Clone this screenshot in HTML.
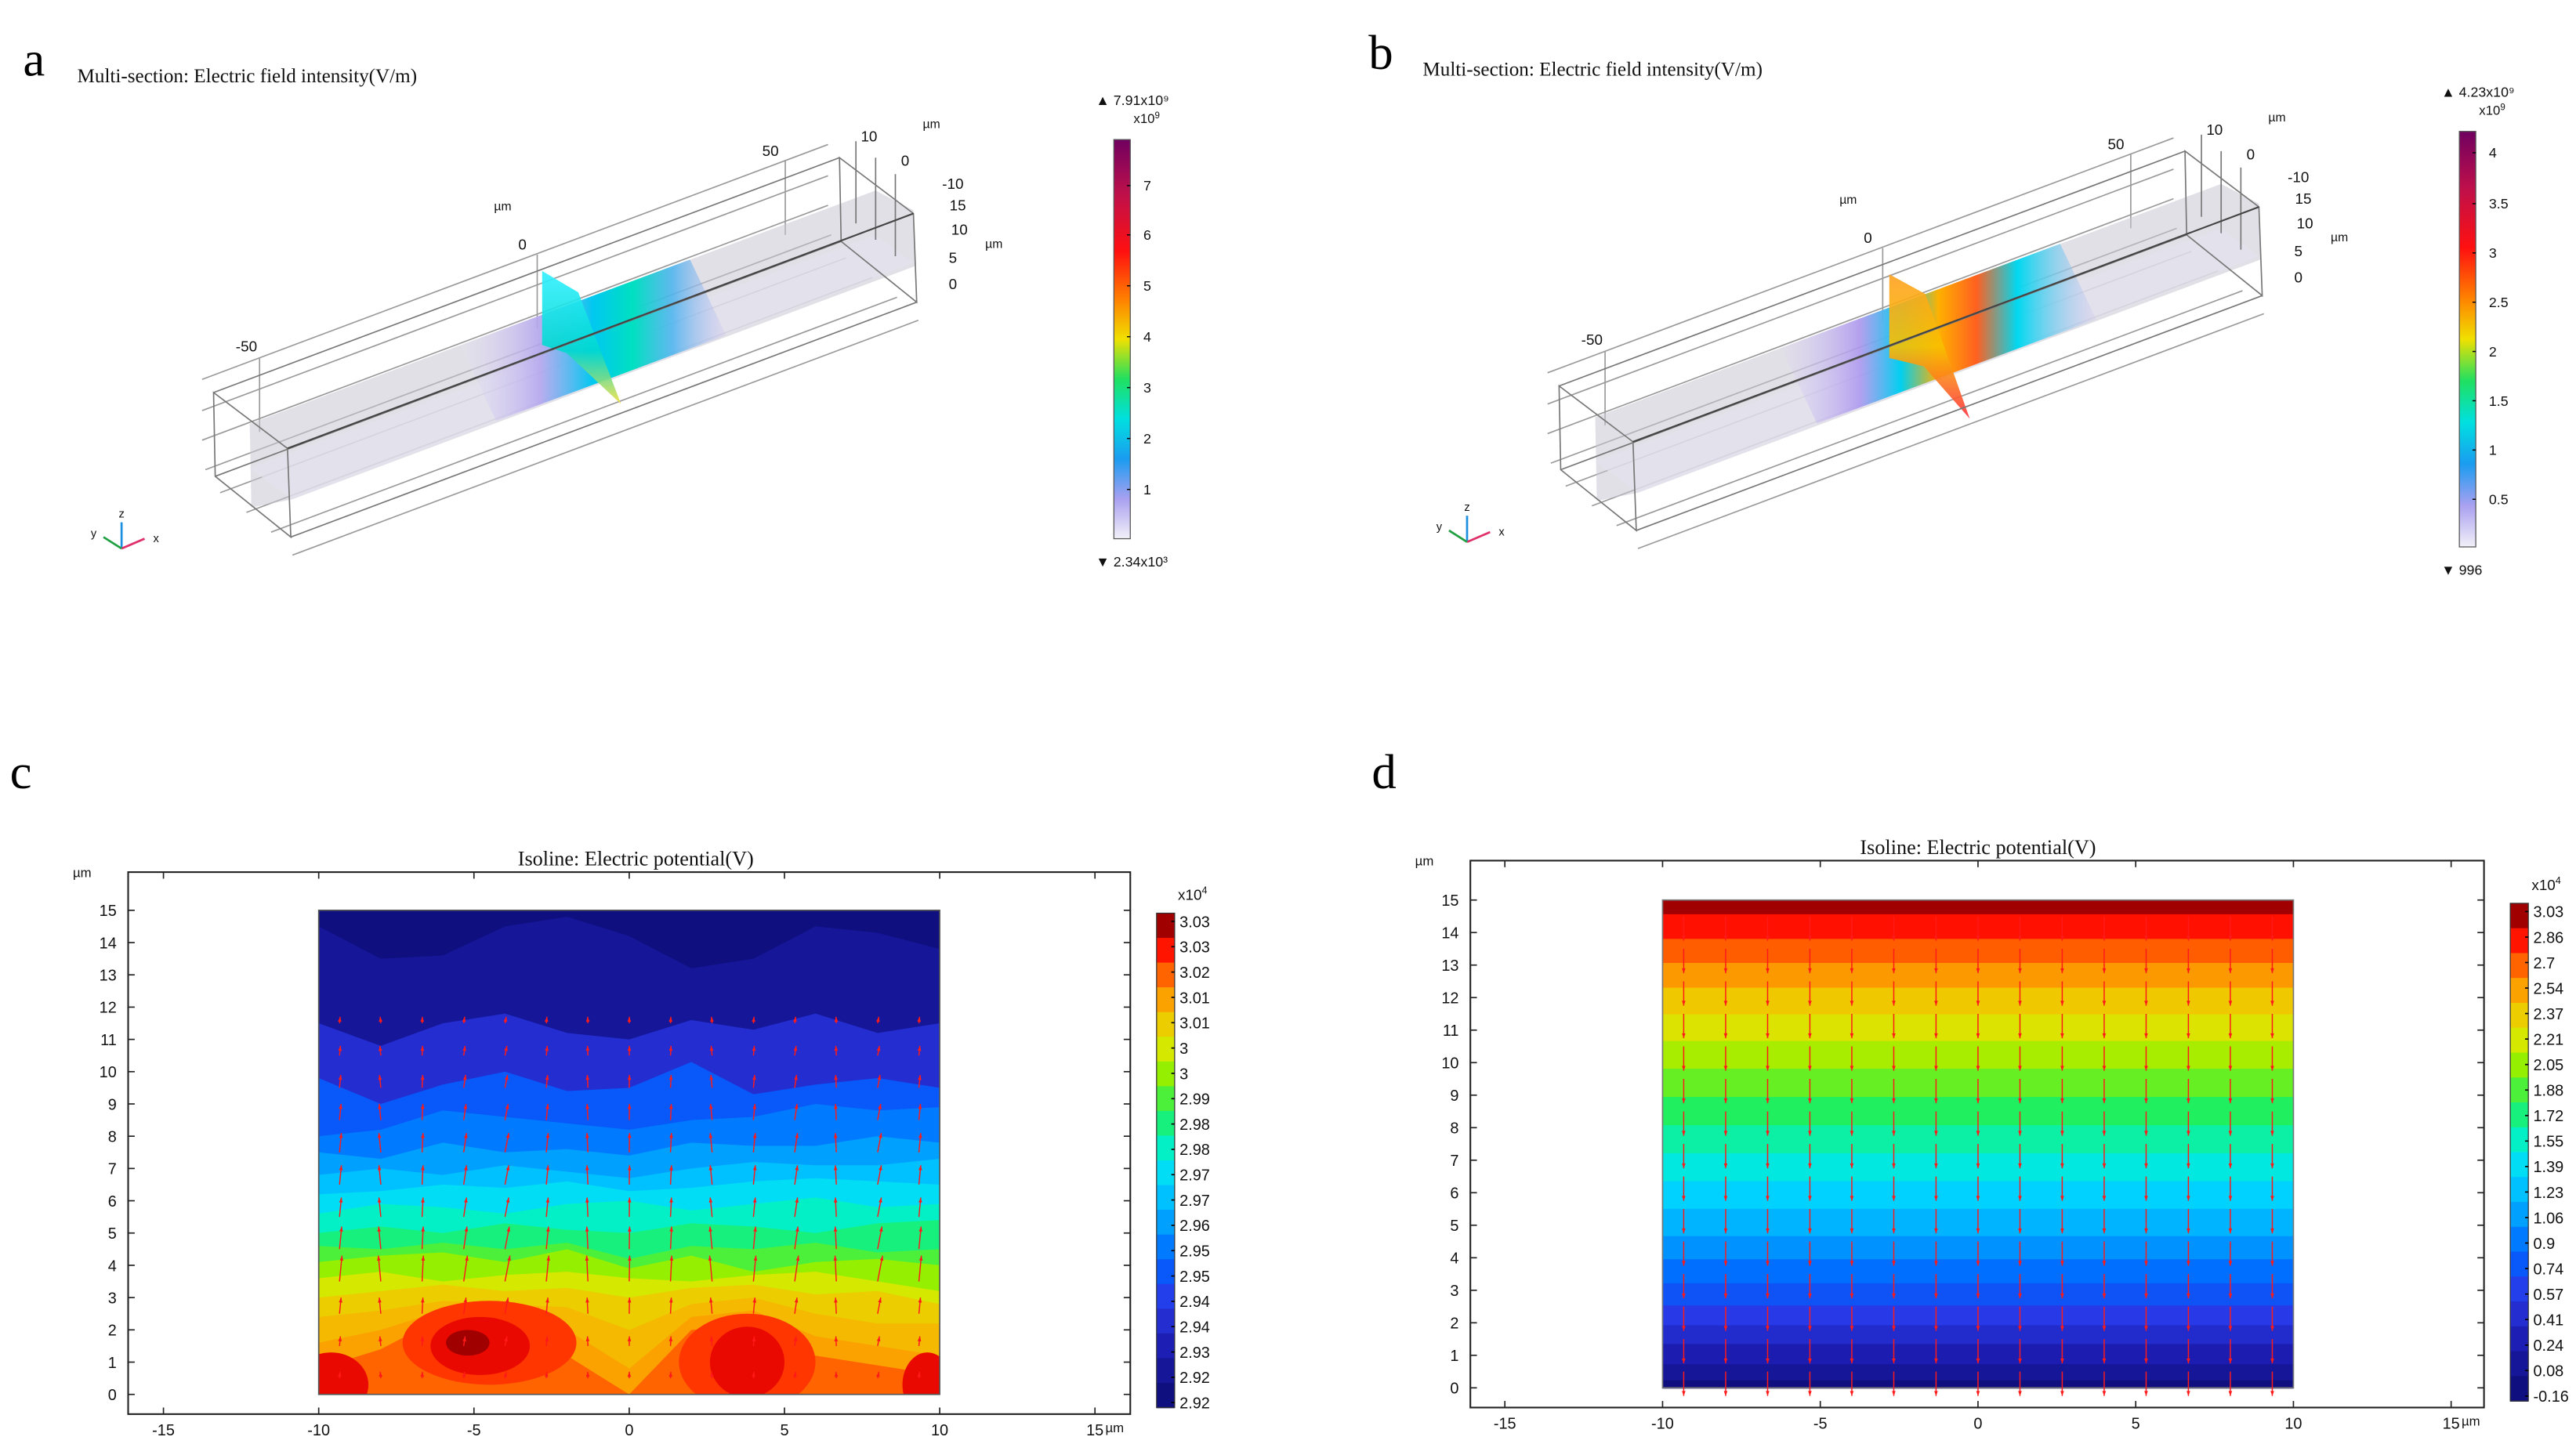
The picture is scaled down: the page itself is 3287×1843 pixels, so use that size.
<!DOCTYPE html>
<html><head><meta charset="utf-8"><style>
html,body{margin:0;padding:0;background:#fff}
svg{display:block}
text{font-family:"Liberation Sans",sans-serif}
.serif{font-family:"Liberation Serif",serif}
</style></head><body>
<svg id="fig" xmlns="http://www.w3.org/2000/svg" width="3287" height="1843" viewBox="0 0 1568 879.2" preserveAspectRatio="none">
<defs>
<linearGradient id="cbA" x1="0" y1="1" x2="0" y2="0">
<stop offset="0" stop-color="#f2f0f8"/><stop offset="0.1" stop-color="#a9a0f0"/><stop offset="0.2" stop-color="#1a9cf0"/><stop offset="0.3" stop-color="#00e0e0"/><stop offset="0.4" stop-color="#20e060"/><stop offset="0.5" stop-color="#f0e000"/><stop offset="0.6" stop-color="#ff8000"/><stop offset="0.72" stop-color="#ff1010"/><stop offset="0.86" stop-color="#c0104a"/><stop offset="1" stop-color="#700060"/>
</linearGradient>
<linearGradient id="secA" x1="0" y1="0" x2="1" y2="0">
<stop offset="0" stop-color="#e8e4f4" stop-opacity="0.2"/><stop offset="0.3" stop-color="#b0a0f0" stop-opacity="0.8"/><stop offset="0.5" stop-color="#00c8f0"/><stop offset="0.65" stop-color="#00e0c0"/><stop offset="0.8" stop-color="#40b0f0" stop-opacity="0.8"/><stop offset="1" stop-color="#c8b8f0" stop-opacity="0.2"/>
</linearGradient>
<linearGradient id="secB" x1="0" y1="0" x2="1" y2="0">
<stop offset="0" stop-color="#e0d8f4" stop-opacity="0.2"/><stop offset="0.25" stop-color="#a890f0" stop-opacity="0.8"/><stop offset="0.38" stop-color="#00d0f0"/><stop offset="0.5" stop-color="#ffb000"/><stop offset="0.62" stop-color="#ff6020"/><stop offset="0.75" stop-color="#00d8f0"/><stop offset="1" stop-color="#c8b8f0" stop-opacity="0.2"/>
</linearGradient>
<linearGradient id="planeB" x1="0" y1="0" x2="0" y2="1">
<stop offset="0" stop-color="#ffa020"/><stop offset="0.5" stop-color="#f8c000"/><stop offset="1" stop-color="#ff3040"/>
</linearGradient>
<linearGradient id="planeA" x1="0" y1="0" x2="0" y2="1">
<stop offset="0" stop-color="#30f0ff"/><stop offset="0.6" stop-color="#00d8d0"/><stop offset="1" stop-color="#f0e040"/>
</linearGradient>
</defs>
<g id="panelA"></g>
<g id="panelB"></g>
<g id="panelC"></g>
<g id="panelD"></g>
</svg>
<script>
// ---------- chart data ----------
const cXTicks = [-15,-10,-5,0,5,10,15];
const cYTicks = [0,1,2,3,4,5,6,7,8,9,10,11,12,13,14,15];
const cColorbarLabels = ["3.03","3.03","3.02","3.01","3.01","3","3","2.99","2.98","2.98","2.97","2.97","2.96","2.95","2.95","2.94","2.94","2.93","2.92","2.92"];
const dColorbarLabels = ["3.03","2.86","2.7","2.54","2.37","2.21","2.05","1.88","1.72","1.55","1.39","1.23","1.06","0.9","0.74","0.57","0.41","0.24","0.08","-0.16"];
const cBoundX = [-10,-8,-6,-4,-2,0,2,4,6,8,10];
const cB1 = [14.5,13.5,13.6,14.5,14.8,14.2,13.2,13.5,14.5,14.3,13.8];
const cB2 = [11.5,10.8,11.5,11.8,11.2,11.0,11.6,11.3,11.8,11.2,11.5];
const cB3 = [9.8,9.0,9.6,10.0,9.4,9.5,10.3,9.3,9.6,9.8,9.5];
const cB4 = [8.0,8.2,8.8,8.6,8.4,8.2,8.5,8.6,9.0,8.8,8.9];
const cB5 = [7.5,7.3,7.8,7.5,7.6,7.4,7.8,7.7,7.7,8.0,7.8];
const cB6 = [6.8,7.0,6.8,7.1,6.9,6.7,7.0,7.2,7.1,7.1,7.3];
const cB7 = [6.2,6.3,6.5,6.4,6.6,6.3,6.4,6.6,6.7,6.6,6.5];
const cB8 = [5.6,5.9,5.8,5.6,5.9,6.0,5.7,5.9,6.1,5.8,5.9];
const cB9 = [5.0,5.2,5.0,5.3,5.1,5.0,5.3,5.2,5.0,5.3,5.4];
const cB10 = [4.6,4.5,4.7,4.5,4.7,4.2,4.6,4.5,4.7,4.4,4.5];
const cB11 = [4.1,4.3,4.4,4.1,4.5,3.9,4.3,3.8,4.1,4.2,4.0];
const cB12 = [3.6,3.8,3.5,3.7,3.8,3.6,3.5,3.7,3.8,3.5,3.2];
const cB13 = [3.0,3.2,3.4,3.2,3.3,3.0,3.3,3.4,3.1,3.2,2.8];
const cB14 = [2.4,2.6,2.9,2.8,2.7,2.0,2.8,3.0,2.5,2.2,2.2];
const cB15 = [1.6,2.0,2.6,2.6,2.0,0.8,2.4,2.6,1.8,1.5,1.2];
const cB16 = [0.8,1.4,2.4,2.3,1.2,0.0,2.0,2.1,1.2,0.9,0.6];
const cBoundaries = [cB1,cB2,cB3,cB4,cB5,cB6,cB7,cB8,cB9,cB10,cB11,cB12,cB13,cB14,cB15,cB16];
const cBoundaryLevels = [1,3,5,6,7,8,9,10,11,12,13,14,15,15.5,16,17];
// hotspots
const cHotX = [-4.5,-4.8,-5.2,3.8,3.8,-9.6,9.6];
const cHotY = [1.6,1.5,1.6,1.0,1.0,0.3,0.3];
const cHotRX = [2.8,1.6,0.7,2.2,1.2,1.2,0.8];
const cHotRY = [1.3,0.9,0.4,1.5,1.1,1.0,1.0];
const cHotLevel = [17.6,18.3,19,17.6,18.3,18.3,18.3];
const arrowColsX = [-9.33,-8.0,-6.67,-5.33,-4.0,-2.67,-1.33,0,1.33,2.67,4.0,5.33,6.67,8.0,9.33];
const cArrowRowsY = [0.5,1.5,2.5,3.5,4.5,5.5,6.5,7.5,8.5,9.5,10.5,11.5];
const cArrowLen = [0.2,0.3,0.5,0.8,0.7,0.6,0.6,0.6,0.5,0.4,0.3,0.2];
const cArrowTilt = [0.1,-0.1,0.05,0.15,0.2,0.1,-0.05,0.02,0.05,-0.1,0.1,0.15,-0.05,0.2,0.1];
const dBandBounds = [0.26,0.75,1.37,1.95,2.56,3.24,3.98,4.69,5.53,6.38,7.24,8.10,8.97,9.84,10.69,11.51,12.33,13.09,13.83,14.59];
const dArrowRowsY = [14.5,13.5,12.5,11.5,10.5,9.5,8.5,7.5,6.5,5.5,4.5,3.5,2.5,1.5,0.5];
const dArrowLen = 0.75;

const NS="http://www.w3.org/2000/svg";
function mk(tag, parent, attrs){const e=document.createElementNS(NS,tag);for(const k in attrs)e.setAttribute(k,attrs[k]);parent.appendChild(e);return e;}
function txt(parent, x, y, s, size, anchor, cls){const t=mk('text',parent,{x:x,y:y,'font-size':size,'text-anchor':anchor||'start',fill:'#111'});if(cls)t.setAttribute('class',cls);t.textContent=s;return t;}

const jetStops=[[0,[15,15,128]],[0.1,[28,28,176]],[0.2,[40,58,232]],[0.28,[0,96,255]],[0.38,[0,168,255]],[0.46,[0,216,255]],[0.52,[0,240,208]],[0.6,[32,240,96]],[0.68,[144,240,0]],[0.74,[216,232,0]],[0.8,[240,200,0]],[0.86,[255,144,0]],[0.91,[255,80,0]],[0.95,[255,16,0]],[0.98,[208,0,0]],[1,[160,0,0]]];
function jet(t){t=Math.max(0,Math.min(1,t));for(let i=1;i<jetStops.length;i++){if(t<=jetStops[i][0]){const a=jetStops[i-1],b=jetStops[i];const f=(t-a[0])/(b[0]-a[0]);const c=a[1].map((v,j)=>Math.round(v+(b[1][j]-v)*f));return `rgb(${c[0]},${c[1]},${c[2]})`;}}return 'rgb(160,0,0)';}

function axes2D(g, xf, yf, frame, title, titleX, letter, letterPos){
  const L=mk('text',g,{x:letterPos[0],y:letterPos[1],'font-size':30,fill:'#000',class:'serif'});L.textContent=letter;
  
  
  const T=txt(g,titleX,frame.y0-4,title,12.5,'middle','serif');
  
  
  const fr=mk('rect',g,{x:frame.x0,y:frame.y0,width:frame.x1-frame.x0,height:frame.y1-frame.y0,fill:'none',stroke:'#222','stroke-width':1});
  
  
  cXTicks.forEach(v=>{const x=xf(v);
    mk('line',g,{x1:x,y1:frame.y1,x2:x,y2:frame.y1-4,stroke:'#222','stroke-width':0.8});
    mk('line',g,{x1:x,y1:frame.y0,x2:x,y2:frame.y0+4,stroke:'#222','stroke-width':0.8});
    const t=txt(g,x,frame.y1+13,String(v),9.5,'middle');
    
    
  });
  txt(g,xf(15)+12,frame.y1+11,'µm',8,'middle');
  cYTicks.forEach(v=>{const y=yf(v);
    mk('line',g,{x1:frame.x0,y1:y,x2:frame.x0+4,y2:y,stroke:'#222','stroke-width':0.8});
    mk('line',g,{x1:frame.x1,y1:y,x2:frame.x1-4,y2:y,stroke:'#222','stroke-width':0.8});
    const t=txt(g,frame.x0-7,y+3.5,String(v),9.5,'end');
    
    
  });
  txt(g,frame.x0-28,frame.y0+3,'µm',8,'middle');
}
function colorbar2D(g, x, y0, y1, labels){
  const n=labels.length, h=(y1-y0)/n;
  for(let i=0;i<n;i++){const r=mk('rect',g,{x:x,y:y0+i*h,width:11,height:h+0.4,fill:jet(1-i/(n-1))});
    
    }
  mk('rect',g,{x:x,y:y0,width:11,height:y1-y0,fill:'none',stroke:'#333','stroke-width':0.6});
  const step=(y1-y0-8)/(n-1);
  labels.forEach((s,i)=>{const y=y0+5+i*step;
    mk('line',g,{x1:x+9,y1:y,x2:x+11,y2:y,stroke:'#000','stroke-width':0.8});
    const t=txt(g,x+14,y+3.5,s,9.5,'start');
    
    
  });
  const e=txt(g,x+13,y0-8,'x10',9,'start');
  const sp=mk('tspan',e,{dy:-4,'font-size':6});sp.textContent='4';
}
function arrow(g,x1,y1,x2,y2){
  mk('line',g,{x1:x1,y1:y1,x2:x2,y2:y2,stroke:'#ff1a1a','stroke-width':0.7});
  const a=Math.atan2(y2-y1,x2-x1),s=3;
  const p=[[x2,y2],[x2-s*Math.cos(a)+1.1*Math.sin(a),y2-s*Math.sin(a)-1.1*Math.cos(a)],[x2-s*Math.cos(a)-1.1*Math.sin(a),y2-s*Math.sin(a)+1.1*Math.cos(a)]];
  mk('polygon',g,{points:p.map(q=>q.join(',')).join(' '),fill:'#ff1a1a'});
}

// panel c
(function(){
  const g=document.getElementById('panelC');
  const xf=v=>383+v*18.9, yf=v=>849-v*19.65;
  const fr={x0:78,y0:531,x1:688,y1:861};
  axes2D(g,xf,yf,fr,'Isoline: Electric potential(V)',387,'c',[6,480]);
  const cg=mk('g',g,{});
  
  
  mk('rect',cg,{x:xf(-10),y:yf(15),width:xf(10)-xf(-10),height:yf(0)-yf(15),fill:jet(0)});
  cBoundaries.forEach((b,k)=>{
    const pts=cBoundX.map((x,i)=>xf(x)+','+yf(b[i]));
    pts.push(xf(10)+','+yf(0));pts.push(xf(-10)+','+yf(0));
    const p=mk('polygon',cg,{points:pts.join(' '),fill:jet(cBoundaryLevels[k]/19)});
    
    
  });
  const clip=mk('clipPath',g,{id:'clipC'});mk('rect',clip,{x:xf(-10),y:yf(15),width:xf(10)-xf(-10),height:yf(0)-yf(15)});
  const hg=mk('g',cg,{'clip-path':'url(#clipC)'});
  cHotX.forEach((cx,i)=>{const e=mk('ellipse',hg,{cx:xf(cx),cy:yf(cHotY[i]),rx:cHotRX[i]*18.9,ry:cHotRY[i]*19.65,fill:jet(cHotLevel[i]/19)});
    
    });
  mk('rect',cg,{x:xf(-10),y:yf(15),width:xf(10)-xf(-10),height:yf(0)-yf(15),fill:'none',stroke:'#555','stroke-width':0.8});
  const ag=mk('g',g,{});
  
  
  cArrowRowsY.forEach((y,r)=>arrowColsX.forEach((x,c)=>{
    const L=cArrowLen[r];arrow(ag,xf(x),yf(y),xf(x+cArrowTilt[c]*L),yf(y+L));
  }));
  colorbar2D(g,704,556,857,cColorbarLabels);
})();

// panel d
(function(){
  const g=document.getElementById('panelD');
  const xf=v=>1204+v*19.2, yf=v=>845-v*19.8;
  const fr={x0:895,y0:524,x1:1512,y1:857};
  axes2D(g,xf,yf,fr,'Isoline: Electric potential(V)',1204,'d',[835,480]);
  const cg=mk('g',g,{});
  
  
  const bounds=[0].concat(dBandBounds).concat([15]);
  for(let k=0;k<bounds.length-1;k++){
    const r=mk('rect',cg,{x:xf(-10),y:yf(bounds[k+1]),width:xf(10)-xf(-10),height:yf(bounds[k])-yf(bounds[k+1])+0.5,fill:jet(k/(bounds.length-2))});
    
    
  }
  mk('rect',cg,{x:xf(-10),y:yf(15),width:xf(10)-xf(-10),height:yf(0)-yf(15),fill:'none',stroke:'#777','stroke-width':0.8});
  const ag=mk('g',g,{});
  
  
  dArrowRowsY.forEach(y=>arrowColsX.forEach(x=>{arrow(ag,xf(x),yf(y),xf(x),yf(y-dArrowLen));}));
  colorbar2D(g,1528,550,853,dColorbarLabels);
})();

// ---------- 3D panels ----------
function panel3D(g, ox, oy, letter, title, cbTop, cbBot, cbLabels, cbY0, cbY1, secGrad, planeFill, planePts, secX0, secX1){
  const P=(x,y)=>(x+ox)+','+(y+oy);
  const L=mk('text',g,{x:14+ox,y:46+oy,'font-size':30,fill:'#000',class:'serif'});L.textContent=letter;
  
  
  const T=txt(g,47+ox,50+oy,title,12,'start','serif');
  
  
  const v=[381,-143];
  const gl=mk('g',g,{stroke:'#9a9a9a','stroke-width':0.8,fill:'none'});
  
  
  const starts=[[123,231],[123,250],[123,268],[125,286],[134,300],[150,312],[165,324],[178,338]];
  starts.forEach(s=>mk('line',gl,{x1:s[0]+ox,y1:s[1]+oy,x2:s[0]+v[0]+ox,y2:s[1]+v[1]+oy}));
  [[158,218],[327,155],[478,98]].forEach(s=>mk('line',gl,{x1:s[0]+ox,y1:s[1]+oy,x2:s[0]+ox,y2:s[1]+oy+45}));
  const slab=mk('polygon',g,{points:[P(152,258),P(533,116),P(556,128),P(557,162),P(178,304),P(153,309)].join(' '),fill:'#c8c6d2','fill-opacity':0.55});
  
  
  mk('polygon',g,{points:[P(152,285),P(533,143),P(556,160),P(178,304)].join(' '),fill:'#e4e2ee','fill-opacity':0.7});
  const sec=mk('polygon',g,{points:[P(secX0,258-(secX0-152)*0.373),P(secX1,258-(secX1-152)*0.373),P(secX1+22,304-(secX1-152)*0.373),P(secX0+22,304-(secX0-152)*0.373)].join(' '),fill:'url(#'+secGrad+')'});
  
  
  const pl=mk('polygon',g,{points:planePts.map(p=>P(p[0],p[1])).join(' '),fill:planeFill,'fill-opacity':0.9});
  
  
  const bx=mk('g',g,{stroke:'#777','stroke-width':0.8,fill:'none'});
  
  
  const F=[[130,239],[175,273],[177,327],[131,290]];
  mk('polygon',bx,{points:F.map(p=>P(p[0],p[1])).join(' ')});
  mk('polygon',bx,{points:F.map(p=>P(p[0]+v[0],p[1]+v[1])).join(' ')});
  F.forEach(p=>mk('line',bx,{x1:p[0]+ox,y1:p[1]+oy,x2:p[0]+v[0]+ox,y2:p[1]+v[1]+oy}));
  mk('line',g,{x1:175+ox,y1:273+oy,x2:556+ox,y2:130+oy,stroke:'#444','stroke-width':1});
  [[521,86],[533,96],[545,106]].forEach(s=>mk('line',bx,{x1:s[0]+ox,y1:s[1]+oy,x2:s[0]+ox,y2:s[1]+oy+50}));
  [[150,214,'-50'],[318,152,'0'],[306,128,'µm'],[469,95,'50'],[529,86,'10'],[567,78,'µm'],[551,101,'0'],[580,115,'-10'],[583,128,'15'],[584,143,'10'],[605,151,'µm'],[580,160,'5'],[580,176,'0']].forEach(a=>{
    const t=txt(g,a[0]+ox,a[1]+oy,a[2],a[2]==='µm'?7.5:9,'middle');
    
    
  });
  const tr=mk('g',g,{});
  
  
  mk('line',tr,{x1:74+ox,y1:334+oy,x2:74+ox,y2:318+oy,stroke:'#1e90e0','stroke-width':1.3});
  mk('line',tr,{x1:74+ox,y1:334+oy,x2:88+ox,y2:328+oy,stroke:'#e0306a','stroke-width':1.3});
  mk('line',tr,{x1:74+ox,y1:334+oy,x2:63+ox,y2:327+oy,stroke:'#20a040','stroke-width':1.3});
  txt(tr,74+ox,315+oy,'z',7,'middle');txt(tr,95+ox,330+oy,'x',7,'middle');txt(tr,57+ox,327+oy,'y',7,'middle');
  const cb=mk('rect',g,{x:678+ox,y:cbY0+oy,width:10,height:cbY1-cbY0,fill:'url(#cbA)',stroke:'#555','stroke-width':0.6});
  
  
  txt(g,667+ox,cbY0-21+oy,'▲ '+cbTop,8.5,'start');
  const e=txt(g,690+ox,cbY0-10+oy,'x10',8,'start');const sp=mk('tspan',e,{dy:-3,'font-size':5.5});sp.textContent='9';
  txt(g,667+ox,cbY1+17+oy,'▼ '+cbBot,8.5,'start');
  cbLabels.forEach(l=>{
    mk('line',g,{x1:686+ox,y1:l[1]+oy,x2:688+ox,y2:l[1]+oy,stroke:'#000','stroke-width':0.7});
    const t=txt(g,696+ox,l[1]+3+oy,l[0],8.5,'start');
    
    
  });
}
panel3D(document.getElementById('panelA'),0,0,'a','Multi-section: Electric field intensity(V/m)','7.91x10⁹','2.34x10³',
  [['7',113],['6',143],['5',174],['4',205],['3',236],['2',267],['1',298]],85,328,'secA','url(#planeA)',
  [[330,165],[352,178],[378,246],[345,215],[330,210]],280,420);
panel3D(document.getElementById('panelB'),819,-4,'b','Multi-section: Electric field intensity(V/m)','4.23x10⁹','996',
  [['4',97],['3.5',128],['3',158],['2.5',188],['2',218],['1.5',248],['1',278],['0.5',308]],84,337,'secB','url(#planeB)',
  [[331,171],[353,183],[380,259],[352,227],[331,222]],265,435);
</script>
</body></html>
